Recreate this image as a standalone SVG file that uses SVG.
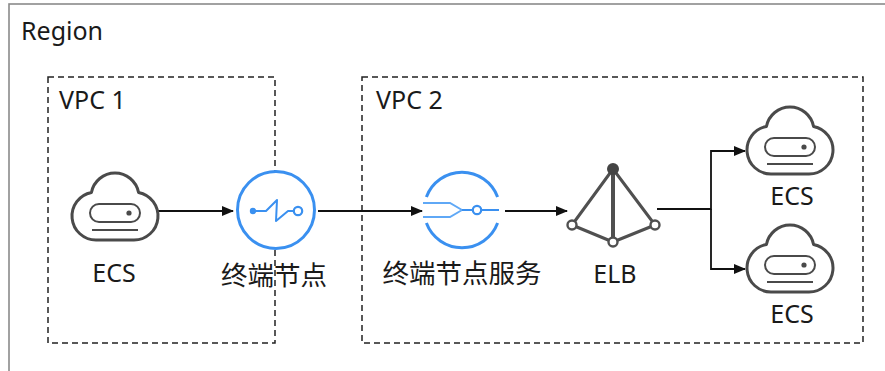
<svg xmlns="http://www.w3.org/2000/svg" width="885" height="371" viewBox="0 0 885 371">
<style>
text{font-family:"Noto Sans","Noto Sans CJK SC",sans-serif;font-size:25px;fill:#1a1a1a}
.cjk{font-size:26.5px}
.mid{text-anchor:middle}
.vpc{fill:none;stroke:#222;stroke-width:1.5;stroke-dasharray:6 4}
.cloud{fill:#fff;stroke:#4a4a4a;stroke-width:3;stroke-linejoin:round}
.cin{fill:none;stroke:#4a4a4a;stroke-width:2}
.blue{fill:none;stroke:#3a90f0;stroke-width:3}
.conn{fill:none;stroke:#111;stroke-width:1.8}
.elb{stroke:#505050;stroke-width:3;fill:none;stroke-linejoin:round}
</style>
<defs>
<marker id="arr" markerWidth="12" markerHeight="10" refX="11" refY="5" orient="auto" markerUnits="userSpaceOnUse">
<path d="M0,0 L12,5 L0,10 z" fill="#111"/>
</marker>
<g id="cloudIcon">
<path class="cloud" d="M24,67 A24,24 0 0 1 19.44,19.44 A24,24 0 0 1 66.56,19.44 A24,24 0 0 1 62,67 Z"/>
<rect class="cin" x="18" y="31" width="50" height="18" rx="9"/>
<circle cx="57" cy="40" r="2.6" fill="#4a4a4a"/>
<line class="cin" x1="20" y1="57" x2="66" y2="57"/>
</g>
</defs>
<rect width="885" height="371" fill="#fff"/>
<g id="region">
<rect x="9" y="4" width="890" height="380" fill="none" stroke="#8a8a8a" stroke-width="1.6"/>
<text x="21" y="40">Region</text>
</g>
<g id="vpc1">
<rect class="vpc" x="48" y="77" width="227" height="266"/>
<text x="59" y="109">VPC 1</text>
</g>
<g id="vpc2">
<rect class="vpc" x="362" y="77" width="501" height="266"/>
<text x="376" y="109">VPC 2</text>
</g>
<g id="connectors">
<line class="conn" x1="158" y1="211" x2="233" y2="211" marker-end="url(#arr)"/>
<line class="conn" x1="318" y1="211" x2="422" y2="211" marker-end="url(#arr)"/>
<line class="conn" x1="505" y1="211" x2="567" y2="211" marker-end="url(#arr)"/>
<path class="conn" d="M657,209 H711 V151 H745" marker-end="url(#arr)"/>
<path class="conn" d="M711,209 V269 H745" marker-end="url(#arr)"/>
</g>
<g id="ecs1">
<use href="#cloudIcon" x="72" y="173"/>
<text class="mid" x="114" y="282">ECS</text>
</g>
<g id="endpoint">
<circle cx="276" cy="210" r="38.5" fill="#fff" stroke="#3a90f0" stroke-width="3"/>
<circle cx="253" cy="211" r="3.2" fill="#3a90f0"/>
<path d="M253,211 H266 L277,200 L276,221 L288,211 H294" fill="none" stroke="#3a90f0" stroke-width="2" stroke-linejoin="round"/>
<circle cx="298" cy="211" r="4.2" fill="#fff" stroke="#3a90f0" stroke-width="2.2"/>
<text class="mid cjk" x="274" y="285">终端节点</text>
</g>
<g id="endpointService">
<path class="blue" d="M426.4,197 A38,38 0 0 1 497.6,197"/>
<path class="blue" d="M426.4,223 A38,38 0 0 0 497.6,223"/>
<path d="M423,203 H450 L462,210 M423,217 H450 L462,210" fill="none" stroke="#5fa8f6" stroke-width="2"/>
<line x1="462" y1="210" x2="473" y2="210" stroke="#3a90f0" stroke-width="2"/>
<circle cx="477" cy="210" r="4.2" fill="#fff" stroke="#3a90f0" stroke-width="2.2"/>
<line x1="481" y1="210" x2="499" y2="210" stroke="#3a90f0" stroke-width="2"/>
<text class="mid cjk" x="462" y="283">终端节点服务</text>
</g>
<g id="elb">
<path class="elb" d="M613,169 L572,225 L613,242 L655,225 Z"/>
<line x1="613" y1="169" x2="613" y2="242" stroke="#505050" stroke-width="4"/>
<circle cx="613" cy="169" r="6" fill="#444"/>
<circle cx="572" cy="225" r="4.5" fill="#fff" stroke="#505050" stroke-width="2.4"/>
<circle cx="613" cy="242" r="4.5" fill="#fff" stroke="#505050" stroke-width="2.4"/>
<circle cx="655" cy="225" r="4.5" fill="#fff" stroke="#505050" stroke-width="2.4"/>
<text class="mid" x="615" y="283">ELB</text>
</g>
<g id="ecs2">
<use href="#cloudIcon" x="747" y="107"/>
<text class="mid" x="792" y="205">ECS</text>
</g>
<g id="ecs3">
<use href="#cloudIcon" x="747" y="225"/>
<text class="mid" x="792" y="323">ECS</text>
</g>
</svg>
